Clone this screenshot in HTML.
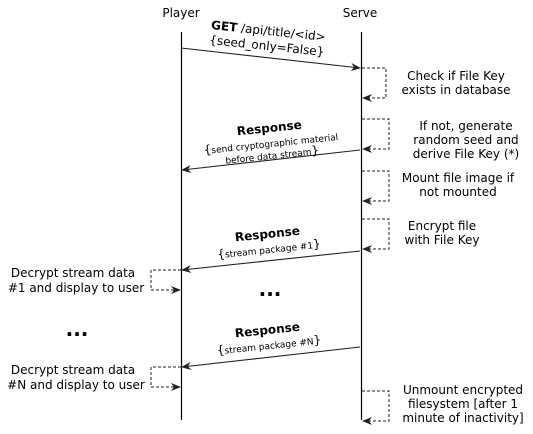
<!DOCTYPE html>
<html><head><style>body{margin:0;background:#fff}svg{display:block}text{font-family:"DejaVu Sans","Liberation Sans",sans-serif;fill:#000}</style></head><body>
<svg width="533" height="434" viewBox="0 0 533 434">
<defs><marker id="a" markerWidth="10" markerHeight="8" refX="9" refY="4" orient="auto" markerUnits="userSpaceOnUse"><path d="M0,0 L10,4 L0,8 L3,4z" fill="#222"/></marker></defs>
<g font-size="12">
<text x="181" y="17" text-anchor="middle">Player</text>
<text x="360" y="17" text-anchor="middle">Serve</text>
</g>
<g stroke="#000" stroke-width="1.2">
<line x1="181.5" y1="32" x2="181.5" y2="420"/>
<line x1="361.5" y1="32" x2="361.5" y2="420"/>
</g>
<g stroke="#222" stroke-width="1.1" fill="none" marker-end="url(#a)">
<line x1="181" y1="48" x2="360" y2="68"/>
<line x1="360" y1="150" x2="182" y2="170"/>
<line x1="360" y1="251" x2="182" y2="270"/>
<line x1="360" y1="347" x2="182" y2="367"/>
</g>
<g stroke="#222" stroke-width="1" fill="none" stroke-dasharray="3,2" marker-end="url(#a)">
<path d="M362,68 H386 V98 H363"/>
<path d="M362,119 H389 V149 H363"/>
<path d="M362,171 H389 V201 H363"/>
<path d="M362,219 H389 V249 H363"/>
<path d="M362,391 H389 V421 H363"/>
<path d="M181,270 H151 V290 H180"/>
<path d="M181,367 H151 V387 H180"/>
</g>
<g transform="rotate(6 268 35)"><text x="268" y="35" text-anchor="middle" font-size="12"><tspan font-weight="bold">GET</tspan> /api/title/&lt;id&gt;</text>
<text x="268" y="50" text-anchor="middle" font-size="12">{seed_only=False}</text></g>
<g transform="rotate(-6 270 135)"><text x="270" y="132" text-anchor="middle" font-size="12" font-weight="bold">Response</text>
<text x="270" y="147" text-anchor="middle" font-size="9"><tspan font-size="12">{</tspan>send cryptographic material</text>
<text x="270" y="159" text-anchor="middle" font-size="9">before data stream<tspan font-size="12">}</tspan></text></g>
<g transform="rotate(-6 268 240)"><text x="268" y="238" text-anchor="middle" font-size="12" font-weight="bold">Response</text>
<text x="268" y="253" text-anchor="middle" font-size="9"><tspan font-size="12">{</tspan>stream package #1<tspan font-size="12">}</tspan></text></g>
<g transform="rotate(-6 268 336)"><text x="268" y="334" text-anchor="middle" font-size="12" font-weight="bold">Response</text>
<text x="268" y="349" text-anchor="middle" font-size="9"><tspan font-size="12">{</tspan>stream package #N<tspan font-size="12">}</tspan></text></g>
<g font-size="12" text-anchor="middle">
<text x="456" y="80">Check if File Key</text><text x="456" y="94">exists in database</text>
<text x="466" y="130">If not, generate</text><text x="466" y="144">random seed and</text><text x="466" y="158">derive File Key (*)</text>
<text x="458" y="182">Mount file image if</text><text x="458" y="196">not mounted</text>
<text x="442" y="230">Encrypt file</text><text x="442" y="244">with File Key</text>
<text x="463" y="394">Unmount encrypted</text><text x="463" y="408">filesystem [after 1</text><text x="463" y="422">minute of inactivity]</text>
<text x="73" y="277">Decrypt stream data</text><text x="76" y="292">#1 and display to user</text>
<text x="73" y="374">Decrypt stream data</text><text x="76" y="389">#N and display to user</text>
</g>
<g font-size="20" font-weight="bold" text-anchor="middle">
<text x="270" y="296">...</text><text x="77" y="336">...</text>
</g>
</svg>
</body></html>
